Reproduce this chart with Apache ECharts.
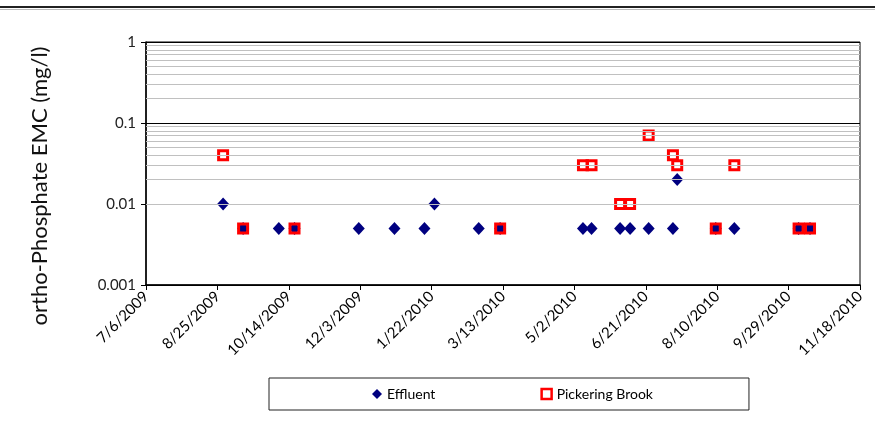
<!DOCTYPE html>
<html>
<head>
<meta charset="utf-8">
<script src="https://cdn.jsdelivr.net/npm/echarts@6/dist/echarts.min.js"></script>
<style>
  html, body { margin: 0; padding: 0; background: #ffffff; }
  #chart { width: 875px; height: 422px; }
</style>
</head>
<body>
<div id="chart"></div>
<script>
// sample dates and ortho-phosphate EMC values (mg/l)
var effluentDates = ['2009-08-29', '2009-09-12', '2009-10-07', '2009-10-18', '2009-12-02', '2009-12-27',
  '2010-01-17', '2010-01-24', '2010-02-24', '2010-03-11', '2010-05-08', '2010-05-14', '2010-06-03',
  '2010-06-10', '2010-06-23', '2010-07-10', '2010-07-13', '2010-08-09', '2010-08-22', '2010-10-06', '2010-10-14']
var effluentValues = [0.01, 0.005, 0.005, 0.005, 0.005, 0.005,
  0.005, 0.01, 0.005, 0.005, 0.005, 0.005, 0.005,
  0.005, 0.005, 0.005, 0.02, 0.005, 0.005, 0.005, 0.005]

var pickeringDates = ['2009-08-29', '2009-09-12', '2009-10-18', '2010-03-11', '2010-05-08', '2010-05-14',
  '2010-06-03', '2010-06-10', '2010-06-23', '2010-07-10', '2010-07-13', '2010-08-09', '2010-08-22',
  '2010-10-06', '2010-10-14']
var pickeringValues = [0.04, 0.005, 0.005, 0.005, 0.03, 0.03,
  0.01, 0.01, 0.07, 0.04, 0.03, 0.005, 0.03,
  0.005, 0.005]

var xTickLabels = ['7/6/2009', '8/25/2009', '10/14/2009', '12/3/2009', '1/22/2010', '3/13/2010',
  '5/2/2010', '6/21/2010', '8/10/2010', '9/29/2010', '11/18/2010']
var yTickLabels = ['0.001', '0.01', '0.1', '1']

var startDate = '2009-07-06'
var DAY = 86400000

// x is days since the first tick date
function toDays(d) {
  return Math.round((Date.parse(d) - Date.parse(startDate)) / DAY)
}
function pairs(dates, values) {
  return dates.map(function (d, i) { return [toDays(d), values[i]] })
}

// minor log gridlines 2..9 in each decade
var minorLines = []
for (var k = -3; k < 0; k++) {
  for (var m = 2; m <= 9; m++) {
    minorLines.push({ yAxis: +(m * Math.pow(10, k)).toPrecision(3) })
  }
}

var font = 'Lato, "Open Sans", sans-serif'
var chart = echarts.init(document.getElementById('chart'))
chart.setOption({
  backgroundColor: '#ffffff',
  animation: false,
  textStyle: { fontFamily: font },
  grid: {
    left: 146, right: 15, top: 42, bottom: 137,
    show: true, borderColor: '#000', borderWidth: 1
  },
  graphic: [
    { type: 'line', shape: { x1: 0, y1: 7, x2: 875, y2: 7 }, style: { stroke: '#222', lineWidth: 2 } },
    { type: 'line', shape: { x1: 0, y1: 9.5, x2: 875, y2: 9.5 }, style: { stroke: '#bbb', lineWidth: 1 } },
    {
      type: 'text', x: 40, y: 186, rotation: Math.PI / 2,
      style: {
        text: 'ortho-Phosphate EMC (mg/l)', fill: '#111',
        font: '22px ' + font, align: 'center', verticalAlign: 'middle'
      }
    }
  ],
  legend: {
    data: [
      { name: 'Effluent' },
      { name: 'Pickering Brook', itemStyle: { color: '#fff', borderColor: '#ff0000', borderWidth: 2.5 } }
    ],
    left: 269, top: 378,
    padding: [9, 96, 9, 103],
    itemGap: 105,
    itemWidth: 10, itemHeight: 10,
    borderColor: '#222', borderWidth: 1,
    textStyle: { fontFamily: font, fontSize: 14, color: '#000' }
  },
  xAxis: {
    type: 'value',
    min: 0, max: 500, interval: 50,
    axisLine: { lineStyle: { color: '#000', width: 1.5 } },
    axisTick: { show: true, length: 5, lineStyle: { color: '#000' } },
    splitLine: { show: false },
    axisLabel: {
      rotate: 45, margin: 9, color: '#000', fontSize: 15, fontFamily: font,
      formatter: function (v) { return xTickLabels[Math.round(v / 50)] }
    }
  },
  yAxis: {
    type: 'log', logBase: 10, min: 0.001, max: 1,
    axisLine: { show: true, lineStyle: { color: '#000', width: 1.5 } },
    axisTick: { show: true, length: 5, lineStyle: { color: '#000' } },
    splitLine: { show: true, lineStyle: { color: '#000', width: 1 } },
    axisLabel: {
      margin: 10, color: '#222', fontSize: 15, fontFamily: font,
      formatter: function (v) { return yTickLabels[Math.round(Math.log10(v)) + 3] }
    }
  },
  series: [
    {
      name: 'grid',
      type: 'line',
      data: [],
      z: 1,
      silent: true,
      markLine: {
        silent: true,
        symbol: 'none',
        label: { show: false },
        lineStyle: { color: '#c0c0c0', width: 1, type: 'solid' },
        data: minorLines
      }
    },
    {
      name: 'Effluent',
      type: 'scatter',
      symbol: 'diamond',
      symbolSize: [12, 13],
      itemStyle: { color: '#000080', opacity: 1 },
      z: 3,
      data: pairs(effluentDates, effluentValues)
    },
    {
      name: 'Pickering Brook',
      type: 'scatter',
      symbol: 'rect',
      symbolSize: 9,
      itemStyle: { color: 'rgba(0,0,0,0)', borderColor: '#ff0000', borderWidth: 3, opacity: 1 },
      z: 4,
      data: pairs(pickeringDates, pickeringValues)
    }
  ]
})
</script>
</body>
</html>
